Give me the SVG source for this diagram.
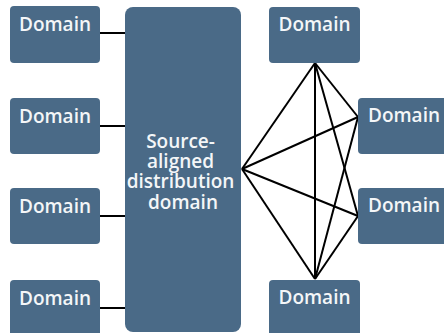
<svg xmlns="http://www.w3.org/2000/svg" width="444" height="333" viewBox="0 0 444 333">
  <style>
    .box { fill: #4a6a87; }
    .lbl { font-family: "Open Sans", "Liberation Sans", sans-serif; font-weight: 600; font-size: 19px; fill: #f4f6f8; text-anchor: middle; }
    .edge { stroke: #000; stroke-width: 2; fill: none; }
  </style>
  <rect width="444" height="333" fill="#ffffff"/>

  <g id="connectors">
    <!-- left domains to central hub -->
    <line class="edge" x1="100" y1="33" x2="125" y2="33"/>
    <line class="edge" x1="100" y1="126" x2="125" y2="126"/>
    <line class="edge" x1="100" y1="216" x2="125" y2="216"/>
    <line class="edge" x1="100" y1="308" x2="125" y2="308"/>
    <!-- hub to right domains -->
    <line class="edge" x1="242" y1="169" x2="315" y2="63"/>
    <line class="edge" x1="242" y1="169" x2="358" y2="117"/>
    <line class="edge" x1="242" y1="169" x2="358" y2="216"/>
    <line class="edge" x1="242" y1="169" x2="315" y2="279"/>
    <!-- mesh among right domains -->
    <line class="edge" x1="315" y1="63" x2="315" y2="279"/>
    <line class="edge" x1="315" y1="63" x2="358" y2="117"/>
    <line class="edge" x1="315" y1="63" x2="358" y2="216"/>
    <line class="edge" x1="315" y1="279" x2="358" y2="117"/>
    <line class="edge" x1="315" y1="279" x2="358" y2="216"/>
  </g>

  <g id="left-domain-1">
    <rect class="box" x="10" y="6" width="90" height="57" rx="4"/>
    <text class="lbl" x="55" y="31">Domain</text>
  </g>
  <g id="left-domain-2">
    <rect class="box" x="10" y="98" width="90" height="56" rx="4"/>
    <text class="lbl" x="55" y="123">Domain</text>
  </g>
  <g id="left-domain-3">
    <rect class="box" x="10" y="188" width="90" height="56" rx="4"/>
    <text class="lbl" x="55" y="213">Domain</text>
  </g>
  <g id="left-domain-4">
    <rect class="box" x="10" y="280" width="90" height="57" rx="4"/>
    <text class="lbl" x="55" y="305">Domain</text>
  </g>

  <g id="hub">
    <rect class="box" x="125" y="7" width="116" height="325" rx="8"/>
    <text class="lbl">
      <tspan x="183" y="148">Source-</tspan>
      <tspan x="183" y="168">aligned</tspan>
      <tspan x="183" y="188">distribution</tspan>
      <tspan x="183" y="209">domain</tspan>
    </text>
  </g>

  <g id="right-domain-top">
    <rect class="box" x="269" y="7" width="91" height="56" rx="4"/>
    <text class="lbl" x="314.5" y="31">Domain</text>
  </g>
  <g id="right-domain-1">
    <rect class="box" x="358" y="98" width="92" height="56" rx="4"/>
    <text class="lbl" x="404" y="122">Domain</text>
  </g>
  <g id="right-domain-2">
    <rect class="box" x="358" y="188" width="92" height="56" rx="4"/>
    <text class="lbl" x="404" y="212">Domain</text>
  </g>
  <g id="right-domain-bottom">
    <rect class="box" x="269" y="280" width="91" height="57" rx="4"/>
    <text class="lbl" x="314.5" y="304">Domain</text>
  </g>
</svg>
